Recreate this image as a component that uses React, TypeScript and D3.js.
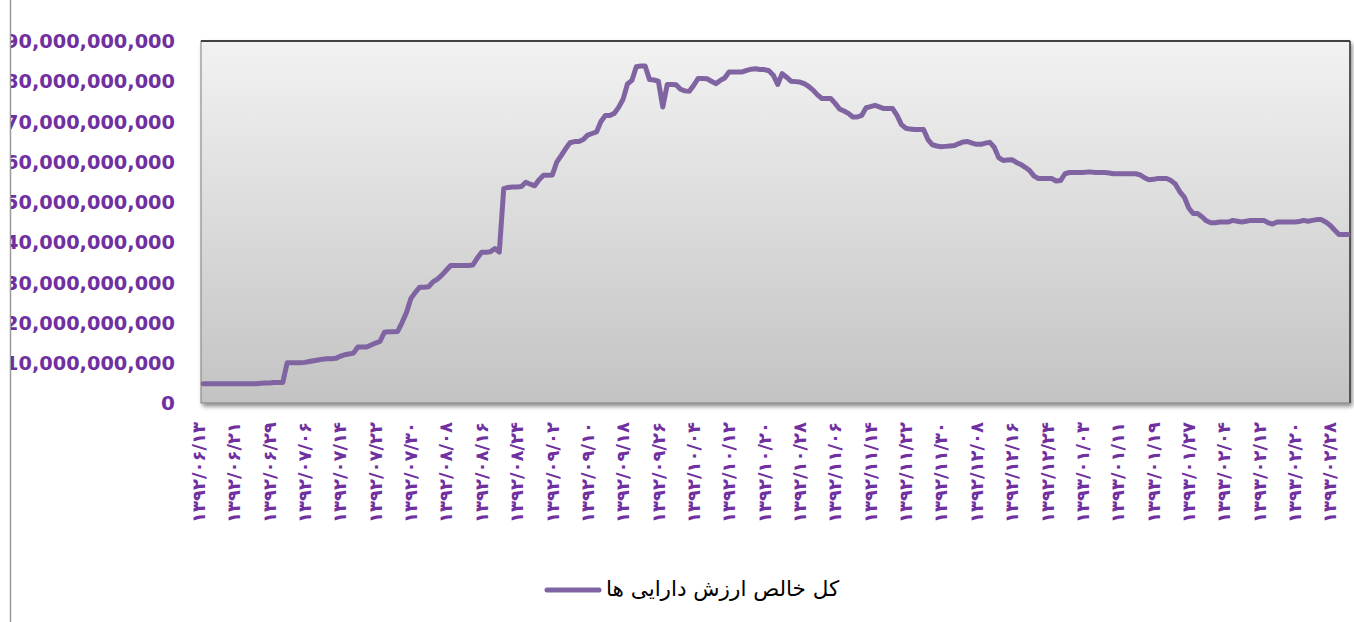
import React from 'react';
import * as d3 from 'd3';

// daily net asset value, in billions of rials
const navBillions: number[] = [
  4.8, 4.8, 4.8, 4.8, 4.8, 4.8, 4.8, 4.8, 4.8, 4.8, 4.8, 4.8, 4.8, 4.9, 5.0, 5.0, 5.1, 5.1, 5.1, 10.0,
  10.0, 10.0, 10.0, 10.1, 10.3, 10.5, 10.7, 10.9, 11.0, 11.0, 11.1, 11.6, 12.0, 12.2, 12.4, 13.9, 13.9, 13.9, 14.4, 14.9,
  15.3, 17.6, 17.7, 17.7, 17.8, 20.0, 22.5, 26.0, 27.5, 28.8, 28.8, 28.9, 30.1, 30.8, 31.8, 33.0, 34.2, 34.2, 34.2, 34.2,
  34.2, 34.3, 36.0, 37.5, 37.5, 37.6, 38.4, 37.5, 53.3, 53.6, 53.7, 53.7, 53.8, 54.9, 54.4, 54.0, 55.5, 56.6, 56.6, 56.7,
  59.9, 61.5, 63.2, 64.7, 65.0, 65.0, 65.5, 66.6, 67.0, 67.4, 70.0, 71.5, 71.5, 72.0, 73.5, 75.5, 79.3, 80.2, 83.6, 83.8,
  83.8, 80.4, 80.3, 80.0, 73.6, 79.2, 79.2, 79.1, 78.0, 77.6, 77.5, 79.0, 80.7, 80.7, 80.6, 80.0, 79.4, 80.2, 80.8, 82.3,
  82.3, 82.3, 82.3, 82.7, 83.0, 83.1, 82.9, 82.9, 82.6, 81.5, 79.2, 81.9, 81.0, 80.0, 79.9, 79.8, 79.4, 78.7, 77.8, 76.6,
  75.7, 75.7, 75.7, 74.5, 73.1, 72.6, 72.0, 71.1, 71.1, 71.5, 73.4, 73.7, 74.0, 73.6, 73.2, 73.2, 73.2, 71.5, 69.2, 68.3,
  68.1, 68.0, 68.0, 68.0, 65.5, 64.2, 63.9, 63.7, 63.8, 63.9, 64.0, 64.5, 64.9, 65.0, 64.6, 64.3, 64.3, 64.6, 64.8, 63.6,
  61.0, 60.3, 60.4, 60.5, 59.8, 59.3, 58.6, 57.8, 56.4, 55.8, 55.8, 55.8, 55.8, 55.2, 55.3, 57.0, 57.3, 57.3, 57.3, 57.3,
  57.4, 57.4, 57.3, 57.3, 57.3, 57.2, 57.0, 57.0, 57.0, 57.0, 57.0, 57.0, 56.7, 56.0, 55.5, 55.6, 55.8, 55.8, 55.8, 55.3,
  54.4, 52.5, 51.2, 48.5, 47.1, 47.1, 46.3, 45.3, 44.8, 44.8, 45.0, 45.0, 45.0, 45.4, 45.2, 45.0, 45.2, 45.4, 45.4, 45.4,
  45.4, 44.8, 44.5, 45.0, 45.0, 45.0, 45.0, 45.0, 45.1, 45.4, 45.2, 45.4, 45.6, 45.6, 45.0, 44.2, 43.0, 41.9, 41.9, 41.9,
];

// one label every 8th day, starting at the first day
const tickLabels: string[] = [
  '۱۳۹۲/۰۶/۱۳', '۱۳۹۲/۰۶/۲۱', '۱۳۹۲/۰۶/۲۹', '۱۳۹۲/۰۷/۰۶', '۱۳۹۲/۰۷/۱۴', '۱۳۹۲/۰۷/۲۲', '۱۳۹۲/۰۷/۳۰',
  '۱۳۹۲/۰۸/۰۸', '۱۳۹۲/۰۸/۱۶', '۱۳۹۲/۰۸/۲۴', '۱۳۹۲/۰۹/۰۲', '۱۳۹۲/۰۹/۱۰', '۱۳۹۲/۰۹/۱۸', '۱۳۹۲/۰۹/۲۶',
  '۱۳۹۲/۱۰/۰۴', '۱۳۹۲/۱۰/۱۲', '۱۳۹۲/۱۰/۲۰', '۱۳۹۲/۱۰/۲۸', '۱۳۹۲/۱۱/۰۶', '۱۳۹۲/۱۱/۱۴', '۱۳۹۲/۱۱/۲۲',
  '۱۳۹۲/۱۱/۳۰', '۱۳۹۲/۱۲/۰۸', '۱۳۹۲/۱۲/۱۶', '۱۳۹۲/۱۲/۲۴', '۱۳۹۳/۰۱/۰۳', '۱۳۹۳/۰۱/۱۱', '۱۳۹۳/۰۱/۱۹',
  '۱۳۹۳/۰۱/۲۷', '۱۳۹۳/۰۲/۰۴', '۱۳۹۳/۰۲/۱۲', '۱۳۹۳/۰۲/۲۰', '۱۳۹۳/۰۲/۲۸',
];
const tickEvery = 8;

const yTicks: number[] = [0, 10e9, 20e9, 30e9, 40e9, 50e9, 60e9, 70e9, 80e9, 90e9];

const seriesName = 'کل خالص ارزش دارایی ها';

const W = 1354;
const H = 622;
const plot = { left: 201, right: 1350, top: 41, bottom: 403 };
const purple = '#8064A2';
const labelColor = '#7030A0';

export default function App() {
  const days = navBillions.map((_, i) => i);
  const x = d3.scalePoint<number>().domain(days).range([plot.left, plot.right]).padding(0.5);
  const y = d3.scaleLinear().domain([0, 90e9]).range([plot.bottom, plot.top]);

  const line = d3
    .line<number>()
    .x((_, i) => x(i) as number)
    .y((v) => y(v * 1e9));

  const fmt = d3.format(',');

  return (
    <svg
      width={W}
      height={H}
      style={{ position: 'absolute', left: 0, top: 0, background: '#fff' }}
      fontFamily="'DejaVu Sans', sans-serif"
    >
      <defs>
        <linearGradient id="plotBg" x1="0" y1="0" x2="0" y2="1">
          <stop offset="0" stopColor="#f2f2f2" />
          <stop offset="1" stopColor="#c3c3c3" />
        </linearGradient>
        <filter id="shadow" x="-5%" y="-5%" width="110%" height="115%">
          <feDropShadow dx="2" dy="3" stdDeviation="2" floodColor="#000" floodOpacity="0.45" />
        </filter>
        <clipPath id="chartClip">
          <rect x={11} y={0} width={W} height={H} />
        </clipPath>
      </defs>

      {/* chart frame edge */}
      <line x1={10.5} x2={10.5} y1={0} y2={H} stroke="#9a9a9a" strokeWidth={1.5} />

      {/* plot area */}
      <rect
        x={plot.left}
        y={plot.top}
        width={plot.right - plot.left}
        height={plot.bottom - plot.top}
        fill="url(#plotBg)"
        stroke="#7f7f7f"
        strokeWidth={1}
        filter="url(#shadow)"
      />
      <line x1={plot.left} x2={plot.right} y1={plot.top} y2={plot.top} stroke="#1a1a1a" strokeWidth={1.5} />
      <line x1={plot.right} x2={plot.right} y1={plot.top} y2={plot.bottom} stroke="#3a3a3a" strokeWidth={1.5} />

      {/* y axis labels */}
      <g clipPath="url(#chartClip)" fontWeight="bold" fontSize={20} fill={labelColor} textAnchor="end">
        {yTicks.map((t) => {
          const s = fmt(t);
          return (
            <text
              key={t}
              x={175}
              y={y(t)}
              dy="0.36em"
              {...(s.length > 3 ? { textLength: 170, lengthAdjust: 'spacingAndGlyphs' } : {})}
            >
              {s}
            </text>
          );
        })}
      </g>

      {/* x axis labels */}
      <g fontWeight="bold" fontSize={18} fill={labelColor} textAnchor="end">
        {tickLabels.map((lab, k) => {
          const cx = x(k * tickEvery) as number;
          return (
            <text key={lab} transform={`translate(${cx},422) rotate(-90)`} dy="0.1em">
              {lab}
            </text>
          );
        })}
      </g>

      {/* series */}
      <path
        d={line(navBillions) ?? ''}
        fill="none"
        stroke={purple}
        strokeWidth={5}
        strokeLinejoin="round"
        strokeLinecap="round"
      />

      {/* legend */}
      <line x1={547} x2={599} y1={590} y2={590} stroke={purple} strokeWidth={5} strokeLinecap="round" />
      <text x={606} y={588} dy="0.35em" fontSize={21.5} fill="#000">
        {seriesName}
      </text>
    </svg>
  );
}
